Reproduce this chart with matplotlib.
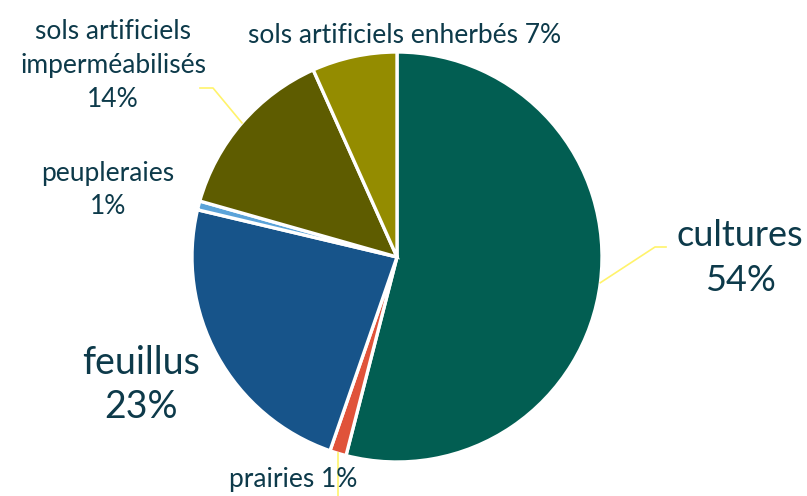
import numpy as np
import matplotlib
matplotlib.use("Agg")
import matplotlib.pyplot as plt

# occupation des sols (%)
categories = ["cultures", "prairies", "feuillus", "peupleraies",
              "sols artificiels\nimperméabilisés", "sols artificiels enherbés"]
values = [54.0, 1.3, 23.4, 0.7, 13.9, 6.7]
pct_labels = ["54%", "1%", "23%", "1%", "14%", "7%"]
colors = ["#025e52", "#e0533a", "#17548a", "#5ba3d9", "#5e5c00", "#948c00"]

W, H = 807, 496
cx, cy, R = 397, 257, 205
txt = "#0d3a4a"
lead = "#fff36b"

fig = plt.figure(figsize=(W / 100, H / 100), dpi=100)
ax = fig.add_axes([(cx - R) / W, (H - cy - R) / H, 2 * R / W, 2 * R / H])
wedges, _ = ax.pie(values, colors=colors, startangle=90, counterclock=False,
                   radius=1, wedgeprops={"linewidth": 2.4, "edgecolor": "white"})
ax.set_xlim(-1, 1)
ax.set_ylim(-1, 1)
ax.set_aspect("equal")
ax.axis("off")
plt.rcParams["font.family"] = ["Lato", "DejaVu Sans"]


def d(px, py):
    # pixel -> data coords
    return (px - cx) / R, (cy - py) / R


def edge(w):
    a = np.deg2rad((w.theta1 + w.theta2) / 2)
    return np.cos(a), np.sin(a)


small = 19

# cultures
x, y = d(740, 258)
ax.text(x, y, categories[0] + "\n" + pct_labels[0], ha="center", va="center",
        fontsize=26, color=txt, linespacing=1.45)
e = edge(wedges[0])
p1, p2 = d(655, 247), d(666, 247)
ax.plot([e[0], p1[0], p2[0]], [e[1], p1[1], p2[1]], color=lead, lw=1.2, clip_on=False)

# prairies
e = edge(wedges[1])
p1 = d(338, 500)
ax.plot([e[0], e[0]], [e[1], p1[1]], color=lead, lw=1.2, clip_on=False)
x, y = d(293, 480)
ax.text(x, y, categories[1] + " " + pct_labels[1], ha="center", va="center",
        fontsize=small, color=txt)

# feuillus
x, y = d(141, 385)
ax.text(x, y, categories[2] + "\n" + pct_labels[2], ha="center", va="center",
        fontsize=27, color=txt, linespacing=1.3)

# peupleraies
x, y = d(108, 190)
ax.text(x, y, categories[3] + "\n" + pct_labels[3], ha="center", va="center",
        fontsize=small, color=txt, linespacing=1.4)

# sols artificiels imperméabilisés
x, y = d(113, 66)
ax.text(x, y, categories[4] + "\n" + pct_labels[4], ha="center", va="center",
        fontsize=small, color=txt, linespacing=1.45)
e = edge(wedges[4])
p1, p2 = d(213, 88), d(200, 88)
ax.plot([e[0], p1[0], p2[0]], [e[1], p1[1], p2[1]], color=lead, lw=1.2, clip_on=False)

# sols artificiels enherbés
x, y = d(405, 36)
ax.text(x, y, categories[5] + " " + pct_labels[5], ha="center", va="center",
        fontsize=small, color=txt)

fig.savefig("out.png", dpi=100)
